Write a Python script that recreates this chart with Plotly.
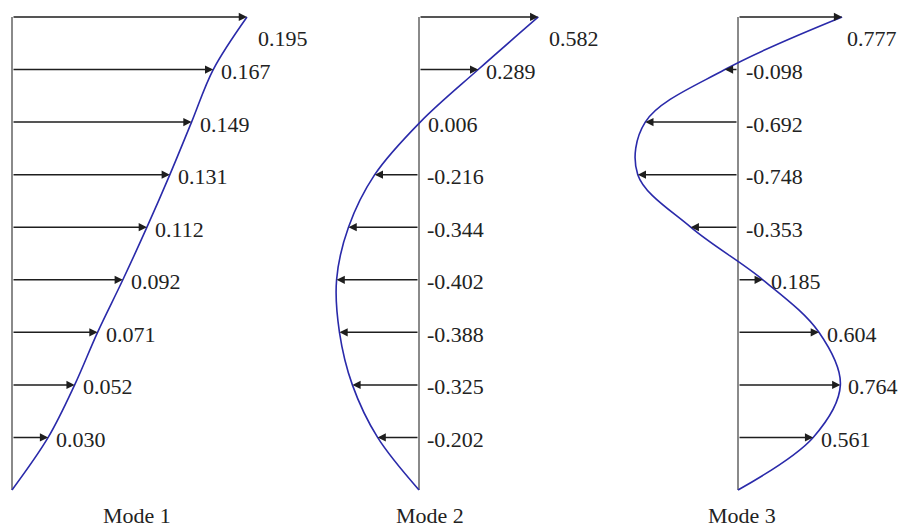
import plotly.graph_objects as go

levels = [0, 1, 2, 3, 4, 5, 6, 7, 8, 9]
mode1 = [0.030, 0.052, 0.071, 0.092, 0.112, 0.131, 0.149, 0.167, 0.195]
mode2 = [-0.202, -0.325, -0.388, -0.402, -0.344, -0.216, 0.006, 0.289, 0.582]
mode3 = [0.561, 0.764, 0.604, 0.185, -0.353, -0.748, -0.692, -0.098, 0.777]
mode_names = ["Mode 1", "Mode 2", "Mode 3"]
label_texts = [
    ["0.030", "0.052", "0.071", "0.092", "0.112", "0.131", "0.149", "0.167", "0.195"],
    ["-0.202", "-0.325", "-0.388", "-0.402", "-0.344", "-0.216", "0.006", "0.289", "0.582"],
    ["0.561", "0.764", "0.604", "0.185", "-0.353", "-0.748", "-0.692", "-0.098", "0.777"],
]

OFF = 8  # page body margin
W, H = 907 - OFF, 528 - OFF
FONT = "Liberation Serif"
FS = 22
baseline_px = [12 - OFF, 419 - OFF, 738 - OFF]
scale_px = [1205, 205, 134]
title_px = [137 - OFF, 430 - OFF, 742 - OFF]
top_xshift = [9, 9, 3]

fig = go.Figure()
modes = [mode1, mode2, mode3]
annotations = []
for k, vals in enumerate(modes):
    xa = "x" if k == 0 else f"x{k+1}"
    fig.add_trace(go.Scatter(x=[0, 0], y=[levels[0], levels[-1]], xaxis=xa, yaxis="y",
                             mode="lines", line=dict(color="#8a8a8a", width=2),
                             hoverinfo="skip", showlegend=False))
    fig.add_trace(go.Scatter(x=[0] + vals, y=levels, xaxis=xa, yaxis="y",
                             mode="lines", line=dict(color="#2a2aaa", width=1.6, shape="spline"),
                             hoverinfo="skip", showlegend=False))
    for i, v in enumerate(vals):
        lv = levels[i + 1]
        if abs(v) * scale_px[k] > 3:
            annotations.append(dict(x=v, y=lv, ax=0, ay=lv, xref=xa, yref="y",
                                    axref=xa, ayref="y", showarrow=True, text="",
                                    arrowhead=2, arrowsize=1.1, arrowwidth=1.5,
                                    arrowcolor="#1e1e1e", standoff=0))
        top = (i == len(vals) - 1)
        annotations.append(dict(x=max(v, 0), y=lv, xref=xa, yref="y", showarrow=False,
                                text=label_texts[k][i], xanchor="left", yanchor="middle",
                                xshift=top_xshift[k] if top else 6, yshift=-22 if top else -2,
                                font=dict(family=FONT, size=FS, color="#222222")))
    annotations.append(dict(x=title_px[k] / W, y=-0.48, xref="paper", yref="y",
                            showarrow=False, text=mode_names[k], xanchor="center",
                            yanchor="middle", font=dict(family=FONT, size=FS, color="#222222")))

layout = dict(width=W, height=H, margin=dict(l=0, r=0, t=0, b=0),
              paper_bgcolor="white", plot_bgcolor="white", annotations=annotations)
level_px = 52.56
y_bottom = 490 - OFF
ymin = -(H - y_bottom) / level_px
ymax = ymin + H / level_px
layout["yaxis"] = dict(range=[ymin, ymax], visible=False, fixedrange=True)
for k in range(3):
    r0 = -baseline_px[k] / scale_px[k]
    r1 = r0 + W / scale_px[k]
    ax = dict(range=[r0, r1], visible=False, domain=[0, 1], fixedrange=True)
    if k > 0:
        ax["overlaying"] = "x"
        ax["anchor"] = "y"
    layout["xaxis" if k == 0 else f"xaxis{k+1}"] = ax
fig.update_layout(**layout)
fig.write_html("out.html")
